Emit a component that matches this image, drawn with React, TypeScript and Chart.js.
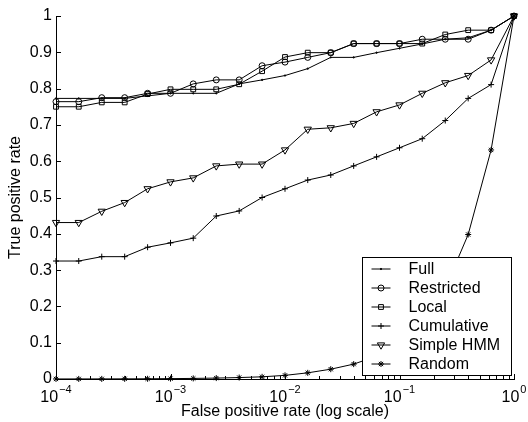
import React, { useEffect, useRef } from 'react';
import { Chart, registerables } from 'chart.js';
import { drawPoint } from 'chart.js/helpers';

Chart.register(...registerables);

// ---- data ----
const fpr = [0.0001, 0.000158, 0.000251, 0.000398, 0.000631, 0.001, 0.00158, 0.00251, 0.00398, 0.00631, 0.01, 0.0158, 0.0251, 0.0398, 0.0631, 0.1, 0.158, 0.251, 0.398, 0.631, 1];
const fullTPR = [0.773, 0.773, 0.773, 0.773, 0.78, 0.787, 0.787, 0.787, 0.813, 0.824, 0.836, 0.855, 0.886, 0.886, 0.899, 0.911, 0.923, 0.936, 0.94, 0.961, 1];
const restrictedTPR = [0.764, 0.764, 0.775, 0.775, 0.787, 0.787, 0.813, 0.824, 0.824, 0.863, 0.873, 0.886, 0.899, 0.924, 0.924, 0.924, 0.936, 0.936, 0.936, 0.961, 1];
const localTPR = [0.75, 0.75, 0.762, 0.762, 0.785, 0.798, 0.798, 0.798, 0.812, 0.848, 0.887, 0.899, 0.899, 0.924, 0.924, 0.924, 0.924, 0.949, 0.961, 0.961, 1];
const cumulativeTPR = [0.325, 0.325, 0.337, 0.337, 0.363, 0.375, 0.388, 0.449, 0.463, 0.5, 0.524, 0.548, 0.562, 0.587, 0.612, 0.637, 0.662, 0.712, 0.773, 0.811, 1];
const simpleHmmTPR = [0.431, 0.431, 0.462, 0.486, 0.524, 0.543, 0.554, 0.587, 0.592, 0.592, 0.631, 0.688, 0.692, 0.704, 0.736, 0.755, 0.787, 0.816, 0.836, 0.879, 1];
const randomTPR = [0.0001, 0.0002, 0.0003, 0.0004, 0.0006, 0.001, 0.0016, 0.0025, 0.004, 0.006, 0.01, 0.017, 0.027, 0.041, 0.063, 0.1, 0.16, 0.25, 0.398, 0.631, 1];

const seriesNames = ['Full', 'Restricted', 'Local', 'Cumulative', 'Simple HMM', 'Random'];
const seriesValues = [fullTPR, restrictedTPR, localTPR, cumulativeTPR, simpleHmmTPR, randomTPR];

const yTickValues = [0, 0.1, 0.2, 0.3, 0.4, 0.5, 0.6, 0.7, 0.8, 0.9, 1];
const yTickLabels = ['0', '0.1', '0.2', '0.3', '0.4', '0.5', '0.6', '0.7', '0.8', '0.9', '1'];
const xDecades = [0.0001, 0.001, 0.01, 0.1, 1];
const xExponents = ['\u22124', '\u22123', '\u22122', '\u22121', '0'];

const xTitle = 'False positive rate (log scale)';
const yTitle = 'True positive rate';

// ---- styles ----
const FONT = '"Liberation Sans", Arial, Helvetica, sans-serif';
const markerStyles = [
  { pointStyle: 'circle', radius: 0.7, rotation: 0, fill: '#000' },
  { pointStyle: 'circle', radius: 3, rotation: 0, fill: 'rgba(0,0,0,0)' },
  { pointStyle: 'rect', radius: 3.4, rotation: 0, fill: 'rgba(0,0,0,0)' },
  { pointStyle: 'cross', radius: 3, rotation: 0, fill: 'rgba(0,0,0,0)' },
  { pointStyle: 'triangle', radius: 4.2, rotation: 180, fill: 'rgba(0,0,0,0)' },
  { pointStyle: 'star', radius: 3, rotation: 0, fill: 'rgba(0,0,0,0)' },
];

const matlabPlugin = {
  id: 'matlabAxes',
  afterDraw(chart: any) {
    const { ctx, chartArea: a, scales } = chart;
    const x = scales.x;
    const y = scales.y;
    ctx.save();
    ctx.strokeStyle = '#000';
    ctx.lineWidth = 1;
    // inward tick marks
    ctx.beginPath();
    for (const v of yTickValues) {
      const py = Math.round(y.getPixelForValue(v)) + 0.5;
      ctx.moveTo(a.left, py);
      ctx.lineTo(a.left + 5, py);
    }
    for (const d of xDecades) {
      for (let m = 1; m <= 9; m++) {
        const v = m * d;
        if (v > 1.0001) break;
        const px = Math.round(x.getPixelForValue(v)) + 0.5;
        const len = m === 1 ? 5 : 3;
        ctx.moveTo(px, a.bottom);
        ctx.lineTo(px, a.bottom - len);
      }
    }
    ctx.stroke();

    // x tick labels 10^n
    ctx.fillStyle = '#000';
    ctx.textBaseline = 'alphabetic';
    ctx.textAlign = 'left';
    xDecades.forEach((d, i) => {
      const px = x.getPixelForValue(d);
      ctx.font = `16px ${FONT}`;
      const wBase = ctx.measureText('10').width;
      ctx.font = `11px ${FONT}`;
      const wExp = ctx.measureText(xExponents[i]).width;
      const start = px - (wBase + wExp + 1) / 2;
      ctx.font = `16px ${FONT}`;
      ctx.fillText('10', start, a.bottom + 23);
      ctx.font = `11px ${FONT}`;
      ctx.fillText(xExponents[i], start + wBase + 1, a.bottom + 14);
    });

    // axis titles
    ctx.font = `16px ${FONT}`;
    ctx.textAlign = 'center';
    ctx.fillText(xTitle, (a.left + a.right) / 2, a.bottom + 37);
    ctx.save();
    ctx.translate(20, (a.top + a.bottom) / 2);
    ctx.rotate(-Math.PI / 2);
    ctx.fillText(yTitle, 0, 0);
    ctx.restore();

    // legend
    const lw = 149;
    const lh = 118;
    const lx = Math.round(a.right - 152) + 0.5;
    const ly = Math.round(a.bottom - 122) + 0.5;
    ctx.fillStyle = '#fff';
    ctx.fillRect(lx, ly, lw, lh);
    ctx.strokeRect(lx, ly, lw, lh);
    ctx.font = `16px ${FONT}`;
    ctx.textAlign = 'left';
    ctx.textBaseline = 'middle';
    seriesNames.forEach((name, i) => {
      const ry = ly + 11.5 + i * 19;
      ctx.strokeStyle = '#000';
      ctx.lineWidth = 1;
      ctx.beginPath();
      ctx.moveTo(lx + 9, ry);
      ctx.lineTo(lx + 28, ry);
      ctx.stroke();
      const ms = markerStyles[i];
      ctx.fillStyle = ms.fill;
      drawPoint(ctx, { pointStyle: ms.pointStyle, radius: ms.radius, rotation: ms.rotation, borderWidth: 1 } as any, lx + 18.5, ry);
      ctx.fillStyle = '#000';
      ctx.fillText(name, lx + 46, ry + 1);
    });
    ctx.restore();
  },
};

export default function App() {
  const ref = useRef<HTMLCanvasElement>(null);
  useEffect(() => {
    document.body.style.margin = '0';
    const canvas = ref.current;
    if (!canvas) return;
    const datasets = seriesNames.map((name, i) => ({
      label: name,
      data: fpr.map((f, j) => ({ x: f, y: seriesValues[i][j] })),
      borderColor: '#000',
      borderWidth: 1,
      backgroundColor: markerStyles[i].fill,
      pointStyle: markerStyles[i].pointStyle as any,
      pointRadius: markerStyles[i].radius,
      pointRotation: markerStyles[i].rotation,
      pointBorderColor: '#000',
      pointBackgroundColor: markerStyles[i].fill,
      pointBorderWidth: 1,
      tension: 0,
      fill: false,
      clip: false as any,
    }));
    const chart = new Chart(canvas, {
      type: 'line',
      data: { datasets },
      options: {
        responsive: false,
        animation: false,
        layout: { padding: { top: 16, right: 14, left: 0, bottom: 0 } },
        plugins: { legend: { display: false }, tooltip: { enabled: false } },
        scales: {
          x: {
            type: 'logarithmic',
            min: 0.0001,
            max: 1,
            grid: { display: false, drawTicks: false },
            border: { display: true, color: '#000', width: 1 },
            ticks: { display: false },
            afterFit: (s: any) => { s.height = 43; },
          },
          y: {
            type: 'linear',
            min: 0,
            max: 1,
            grid: { display: false, drawTicks: false },
            border: { display: true, color: '#000', width: 1 },
            afterBuildTicks: (s: any) => { s.ticks = yTickValues.map((v) => ({ value: v })); },
            ticks: {
              color: '#000',
              padding: 4,
              font: { family: FONT, size: 16 },
              callback: (v: any) => { const idx = yTickValues.findIndex((t) => Math.abs(t - Number(v)) < 1e-6); return idx >= 0 ? yTickLabels[idx] : ''; },
            },
            afterFit: (s: any) => { s.width = 56; },
          },
        },
      },
      plugins: [matlabPlugin],
    });
    return () => chart.destroy();
  }, []);
  return (
    <div style={{ width: 528, height: 422, background: '#fff' }}>
      <canvas ref={ref} width={528} height={422} />
    </div>
  );
}
